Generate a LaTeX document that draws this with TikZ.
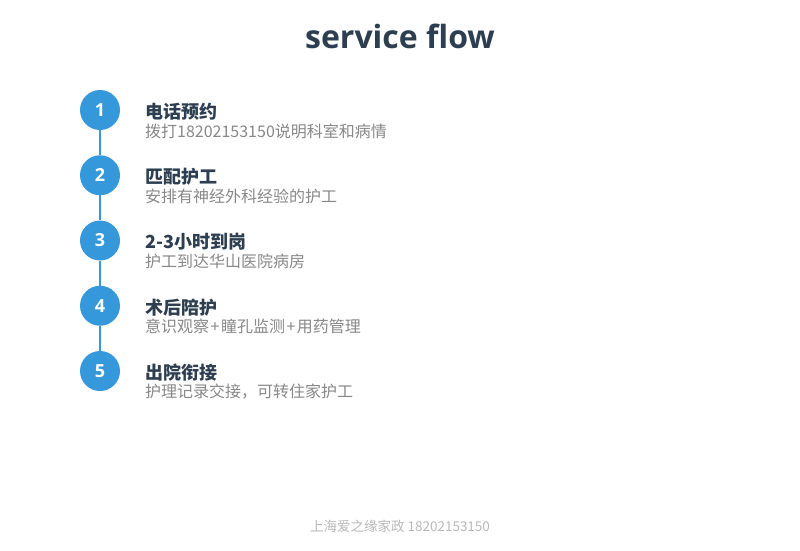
\documentclass[tikz,border=0pt]{standalone}
\usepackage{fontspec}
\setmainfont{Open Sans}
\newfontfamily\cjk{Noto Sans CJK SC}
\definecolor{stepblue}{HTML}{3498DB}
\definecolor{ink}{HTML}{2C3E50}
\definecolor{note}{HTML}{888888}
\definecolor{foot}{HTML}{B8B8B8}
\newcommand\plussep{\hspace{1.5pt}+\hspace{1.5pt}}
\begin{document}
\begin{tikzpicture}[x=1pt, y=-1pt,
	dot/.style={circle, fill=stepblue, minimum size=40pt, inner sep=0pt, text=white, font=\bfseries\fontsize{18}{20}\selectfont},
	head/.style={anchor=west, inner sep=0pt, text=ink, font=\cjk\bfseries\fontsize{18}{20}\selectfont},
	sub/.style={anchor=west, inner sep=0pt, text=note, font=\cjk\fontsize{16}{18}\selectfont},
	declare function={dy=65.25;}]
	\useasboundingbox (0,0) rectangle (800,550);
	\node[anchor=base, text=ink, font=\bfseries\fontsize{32}{36}\selectfont] (title) at (400,48) {service flow};
	% steps: circle, heading and note
	\foreach \i/\h/\s in {1/电话预约/拨打18202153150说明科室和病情, 2/匹配护工/安排有神经外科经验的护工, 3/2-3小时到岗/护工到达华山医院病房, 4/术后陪护/意识观察\plussep 瞳孔监测\plussep 用药管理, 5/出院衔接/护理记录交接，可转住家护工}{
		\node[dot] (c\i) at (100,{110+dy*(\i-1)}) {\i};
		\node[head] (h\i) at (145,{111.5+dy*(\i-1)}) {\h};
		\node[sub] (s\i) at (145,{131+dy*(\i-1)}) {\s};
	}
	\foreach \i/\j in {1/2, 2/3, 3/4, 4/5}{
		\draw[stepblue, line width=2pt] (c\i)--(c\j);
	}
	\node[text=foot, font=\cjk\fontsize{13.5}{15}\selectfont] (foot) at (400,526) {上海爱之缘家政 18202153150};
\end{tikzpicture}
\end{document}
